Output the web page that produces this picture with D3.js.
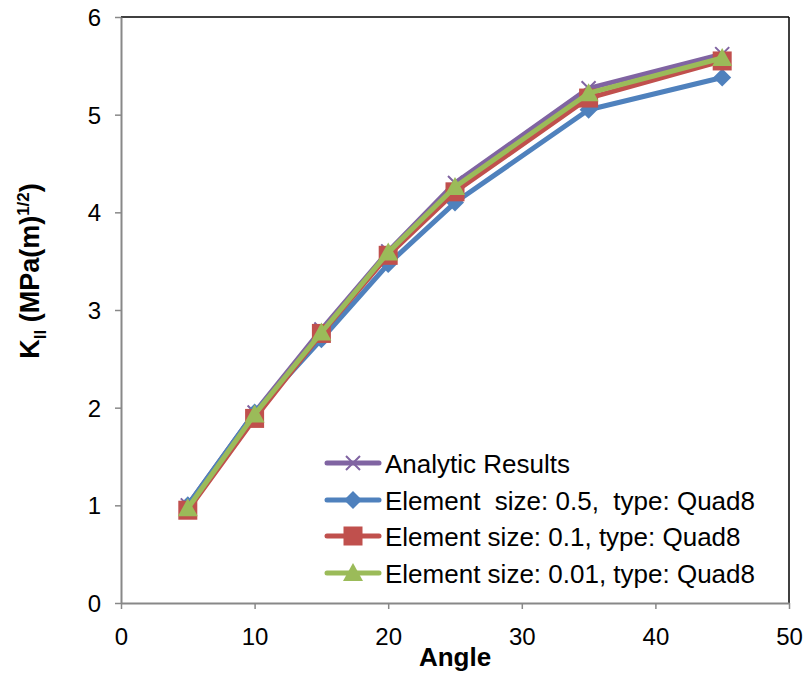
<!DOCTYPE html>
<html><head><meta charset="utf-8">
<script src="https://cdn.jsdelivr.net/npm/d3@7"></script>
<style>body{margin:0;background:#fff;} svg{display:block;font-family:"Liberation Sans",Arial,sans-serif;}</style>
</head><body>
<svg id="c" width="810" height="677"></svg>
<script>
const angles = [5, 10, 15, 20, 25, 35, 45];
const analytic = [1.00, 1.95, 2.80, 3.60, 4.30, 5.27, 5.62];
const size05 = [1.00, 1.95, 2.70, 3.47, 4.10, 5.05, 5.38];
const size01 = [0.95, 1.89, 2.76, 3.56, 4.21, 5.17, 5.55];
const size001 = [0.97, 1.93, 2.77, 3.59, 4.26, 5.22, 5.58];
const seriesNames = ["Analytic Results", "Element  size: 0.5,  type: Quad8", "Element size: 0.1, type: Quad8", "Element size: 0.01, type: Quad8"];
const xTicks = [0, 10, 20, 30, 40, 50];
const yTicks = [0, 1, 2, 3, 4, 5, 6];

const series = [
  {name: seriesNames[0], values: analytic, color: "#8064A2", marker: "x"},
  {name: seriesNames[1], values: size05, color: "#4F81BD", marker: "diamond"},
  {name: seriesNames[2], values: size01, color: "#C0504D", marker: "square"},
  {name: seriesNames[3], values: size001, color: "#9BBB59", marker: "triangle"}
];

const svg = d3.select("#c");
const L = 121, R = 789, T = 17, B = 603;
const x = d3.scaleLinear().domain([0, 50]).range([L, R]);
const y = d3.scaleLinear().domain([0, 6]).range([B, T]);

// frame top/right
svg.append("line").attr("x1", L).attr("x2", R).attr("y1", T).attr("y2", T).attr("stroke", "#000").attr("stroke-width", 1.5);
svg.append("line").attr("x1", R).attr("x2", R).attr("y1", T).attr("y2", B).attr("stroke", "#000").attr("stroke-width", 1.5);

const xAxis = svg.append("g").attr("transform", `translate(0,${B})`)
  .call(d3.axisBottom(x).tickValues(xTicks).tickFormat(d3.format("d")).tickSize(6).tickSizeOuter(0));
const yAxis = svg.append("g").attr("transform", `translate(${L},0)`)
  .call(d3.axisLeft(y).tickValues(yTicks).tickFormat(d3.format("d")).tickSize(6).tickSizeOuter(0).tickPadding(14));
[xAxis, yAxis].forEach(g => {
  g.select(".domain").attr("stroke", "#888").attr("stroke-width", 2);
  g.selectAll(".tick line").attr("stroke", "#888").attr("stroke-width", 1.5);
  g.selectAll(".tick text").attr("font-size", 24).attr("fill", "#000").attr("font-family", "Liberation Sans, Arial, sans-serif");
});
yAxis.selectAll(".tick text").attr("dy", "0.36em");
xAxis.selectAll(".tick text").attr("y", 42).attr("dy", 0);

function drawMarker(g, type, color, cx, cy) {
  if (type === "x") {
    const h = 7;
    g.append("path").attr("d", `M${cx-h},${cy-h}L${cx+h},${cy+h}M${cx-h},${cy+h}L${cx+h},${cy-h}`)
      .attr("stroke", color).attr("stroke-width", 2).attr("fill", "none");
  } else if (type === "diamond") {
    const h = 9;
    g.append("path").attr("d", `M${cx},${cy-h}L${cx+h},${cy}L${cx},${cy+h}L${cx-h},${cy}Z`).attr("fill", color);
  } else if (type === "square") {
    const h = 9.5;
    g.append("rect").attr("x", cx-h).attr("y", cy-h).attr("width", 2*h).attr("height", 2*h).attr("fill", color);
  } else if (type === "triangle") {
    const h = 10;
    g.append("path").attr("d", `M${cx},${cy-h}L${cx+h},${cy+h*0.8}L${cx-h},${cy+h*0.8}Z`).attr("fill", color);
  }
}

const line = d3.line().x(d => x(d[0])).y(d => y(d[1]));
series.forEach(s => {
  const g = svg.append("g");
  const pts = angles.map((a, i) => [a, s.values[i]]);
  g.append("path").datum(pts).attr("d", line).attr("fill", "none")
    .attr("stroke", s.color).attr("stroke-width", 5).attr("stroke-linejoin", "round").attr("stroke-linecap", "round");
  pts.forEach(p => drawMarker(g, s.marker, s.color, x(p[0]), y(p[1])));
});

// legend
const legY = [463, 500, 536, 573];
series.forEach((s, i) => {
  const g = svg.append("g");
  const yy = legY[i];
  g.append("line").attr("x1", 327).attr("x2", 379).attr("y1", yy).attr("y2", yy)
    .attr("stroke", s.color).attr("stroke-width", 5).attr("stroke-linecap", "round");
  drawMarker(g, s.marker, s.color, 353, yy);
  g.append("text").attr("x", 385).attr("y", yy + 1).attr("dy", "0.36em")
    .attr("font-size", 26).attr("fill", "#000").attr("xml:space", "preserve").style("white-space", "pre").text(s.name);
});

// axis titles
svg.append("text").attr("x", 455).attr("y", 666).attr("text-anchor", "middle")
  .attr("font-size", 26).attr("font-weight", "bold").text("Angle");
const yt = svg.append("text").attr("transform", "translate(39,271) rotate(-90)").attr("text-anchor", "middle")
  .attr("font-size", 27).attr("font-weight", "bold");
yt.append("tspan").text("K");
yt.append("tspan").attr("font-size", 17).attr("dy", 7).text("II");
yt.append("tspan").attr("dy", -7).text(" (MPa(m)");
yt.append("tspan").attr("font-size", 17).attr("dy", -10).text("1/2");
yt.append("tspan").attr("dy", 10).text(")");
</script>
</body></html>
